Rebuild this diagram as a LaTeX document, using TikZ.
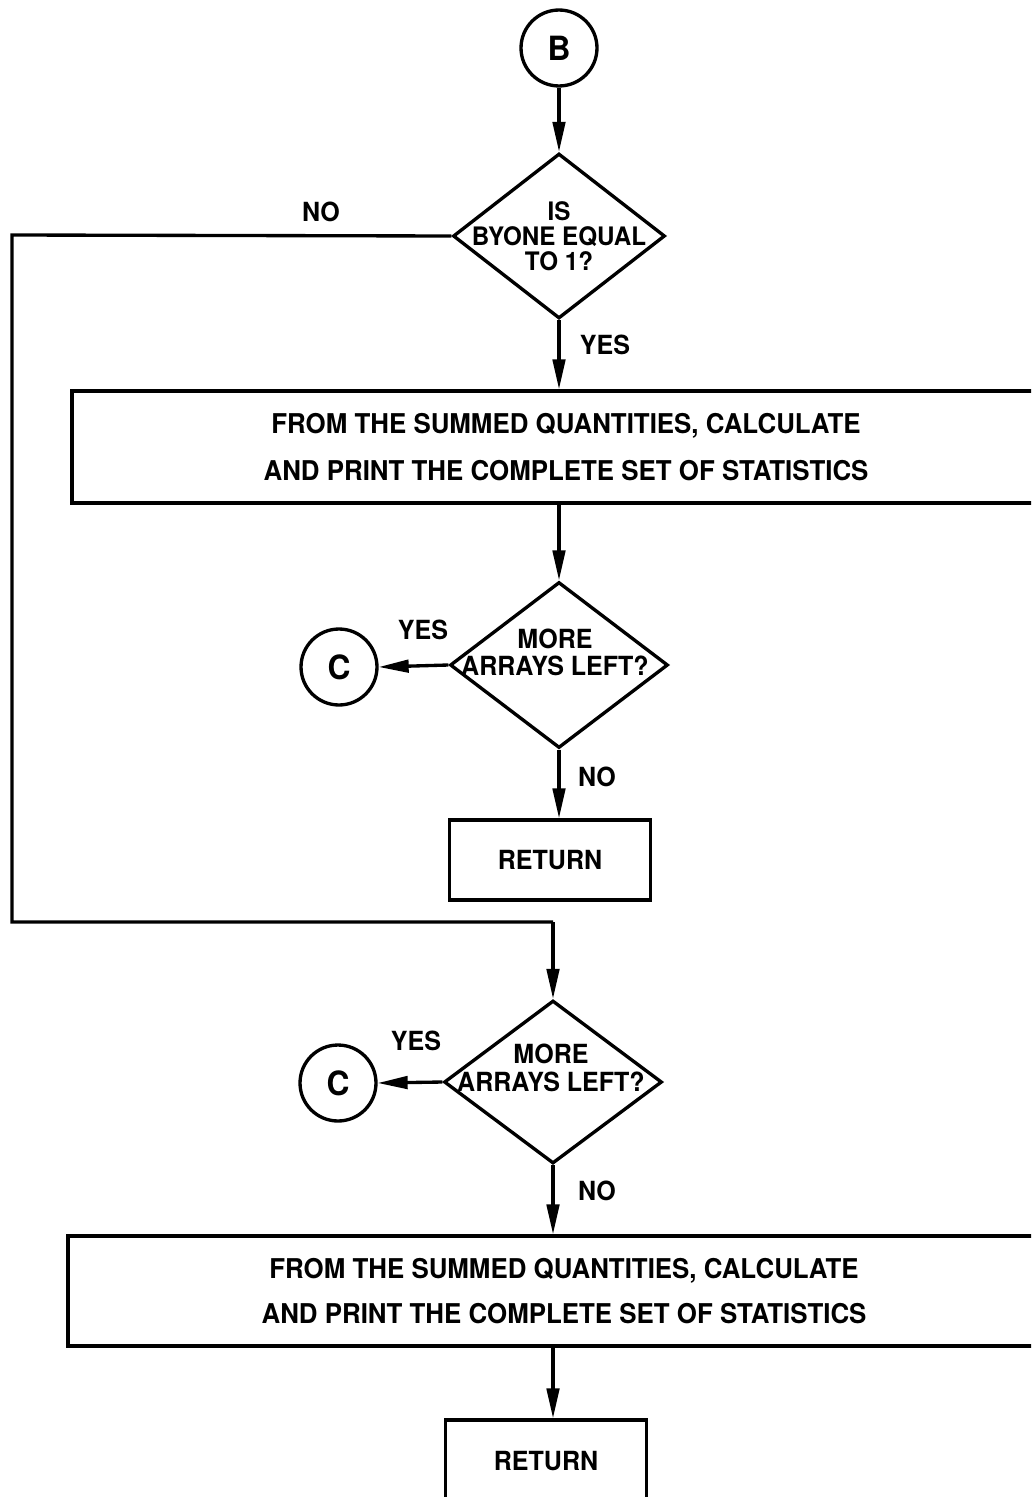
\documentclass[tikz,border=0pt]{standalone}
\usepackage{fontspec}
\setmainfont{TeX Gyre Heros}[FakeStretch=0.95]
\usetikzlibrary{shapes.geometric,arrows.meta}
\begin{document}
\begin{tikzpicture}[x=0.02cm,y=-0.02cm,
  line width=1.9pt,
  every node/.style={font=\bfseries\fontsize{15}{15}\selectfont},
  conn/.style={circle,draw,minimum size=1.52cm,inner sep=0pt,
               font=\bfseries\fontsize{19}{19}\selectfont},
  decision/.style={diamond,draw,inner sep=0pt},
  procbox/.style={rectangle,draw,inner sep=0pt,align=center},
  lbl/.style={inner sep=0pt},
  arr/.style={-{Triangle[length=0.6cm,width=0.25cm]}}]
\clip (0,0) rectangle (1031,1497);
\fill[white] (0,0) rectangle (1031,1497);

% entry connector and first decision
\node[conn] (B) at (559,48) {B};
\node[decision,minimum width=4.24cm,minimum height=3.3cm] (d1) at (559,236) {};
\node[lbl,align=center,font=\bfseries\fontsize{14.5}{14.2}\selectfont] (t1) at (559,236) {IS\\BYONE EQUAL\\TO 1?};
\draw[arr] (B) -- (d1.north);
\node[lbl] (no1) at (321,212) {NO};
\node[lbl] (yes1) at (605,345) {YES};

% statistics box
\node[procbox,minimum width=19.76cm,minimum height=2.24cm,
      font=\bfseries\fontsize{15.5}{27.2}\selectfont] (s1) at (566,447)
  {FROM THE SUMMED QUANTITIES, CALCULATE\\AND PRINT THE COMPLETE SET OF STATISTICS};
\draw[arr] (d1.south) -- (d1.south |- s1.north);

% second decision
\node[decision,minimum width=4.36cm,minimum height=3.32cm] (d2) at (559,665) {};
\node[lbl,align=center,font=\bfseries\fontsize{15}{15.4}\selectfont] (t2) at (555,652) {MORE\\ARRAYS LEFT?};
\draw[arr] (d2.south |- s1.south) -- (d2.north);
\node[conn] (c1) at (339,667) {C};
\draw[arr] (d2.west) -- (c1.east);
\node[lbl] (yes2) at (423,630) {YES};
\node[lbl] (no2) at (597,777) {NO};

\node[procbox,minimum width=4.02cm,minimum height=1.6cm] (r1) at (550,860) {RETURN};
\draw[arr] (d2.south) -- (d2.south |- r1.north);

% NO branch around the left side
\coordinate (k1) at (12,235);
\coordinate (k2) at (12,922);
\coordinate (k3) at (553,922);

% third decision
\node[decision,minimum width=4.36cm,minimum height=3.26cm] (d3) at (553,1082) {};
\node[lbl,align=center,font=\bfseries\fontsize{15}{15.9}\selectfont] (t3) at (551,1068) {MORE\\ARRAYS LEFT?};
\draw (d1.west) -- (k1) -- (k2) -- (k3);
\draw[arr] (k3) -- (d3.north);
\node[conn] (c2) at (338,1083) {C};
\draw[arr] (d3.west) -- (c2.east);
\node[lbl] (yes3) at (416,1041) {YES};
\node[lbl] (no3) at (597,1191) {NO};

% second statistics box
\node[procbox,minimum width=19.84cm,minimum height=2.2cm,
      font=\bfseries\fontsize{15.5}{25.6}\selectfont] (s2) at (564,1291)
  {FROM THE SUMMED QUANTITIES, CALCULATE\\AND PRINT THE COMPLETE SET OF STATISTICS};
\draw[arr] (d3.south) -- (d3.south |- s2.north);

\node[procbox,minimum width=4.02cm,minimum height=1.64cm] (r2) at (546,1461) {RETURN};
\draw[arr] (d3.south |- s2.south) -- (d3.south |- r2.north);
\end{tikzpicture}
\end{document}
